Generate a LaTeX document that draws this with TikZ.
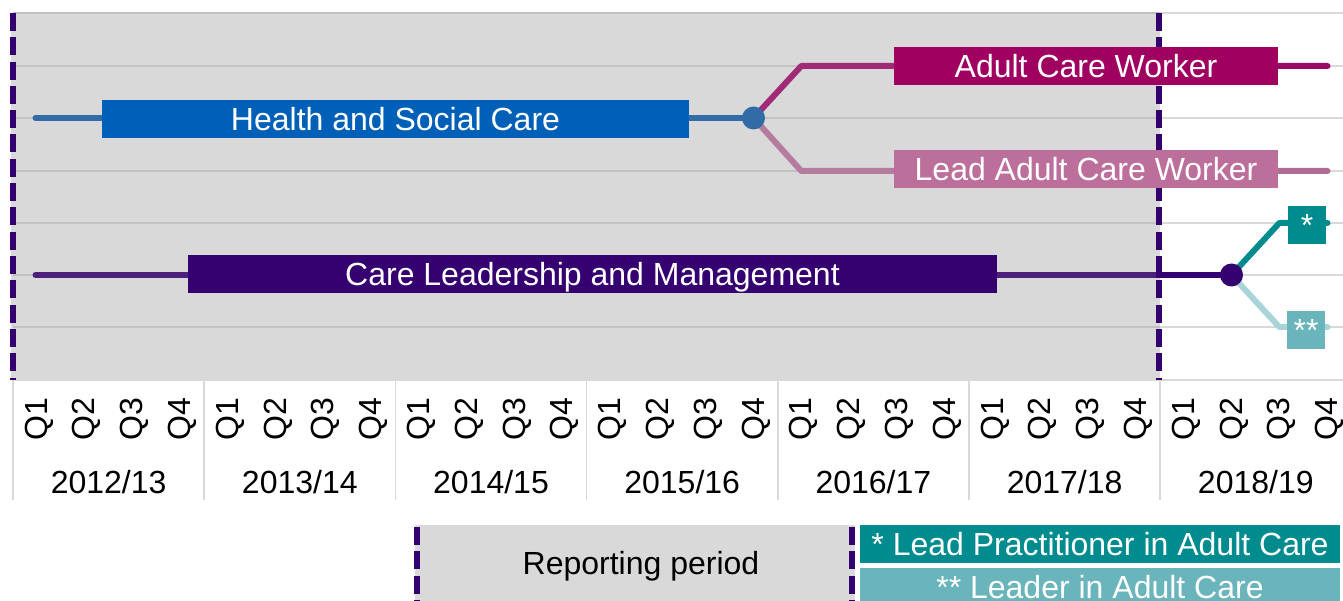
\documentclass[tikz,border=0pt]{standalone}
\usepackage{fontspec}
\setmainfont{Liberation Sans}
\definecolor{regionGrey}{HTML}{D9D9D9}
\definecolor{gridDark}{HTML}{BFBFBF}
\definecolor{gridLight}{HTML}{D9D9D9}
\definecolor{periodPurple}{HTML}{330070}
\definecolor{hscBox}{HTML}{0060B8}
\definecolor{hscLine}{HTML}{155A9E}
\definecolor{acwBox}{HTML}{A0005F}
\definecolor{acwLine}{HTML}{980C66}
\definecolor{lacwBox}{HTML}{BD6F9C}
\definecolor{lacwLine}{HTML}{B06C96}
\definecolor{clmBox}{HTML}{35006F}
\definecolor{lpBox}{HTML}{008B8F}
\definecolor{lacBox}{HTML}{6AB4BC}
\definecolor{lacLine}{HTML}{A9D5D8}
\begin{document}
\begin{tikzpicture}[x=1pt,y=-1pt,
  bigfont/.style={font=\fontsize{32}{38}\selectfont},
  lbl/.style={bigfont, text=white, inner sep=0pt, minimum height=38pt,
    text height=23pt, text depth=0pt, anchor=center},
  axislbl/.style={bigfont, text=black, inner sep=0pt, text height=23pt,
    text depth=0pt, anchor=center},
  qlbl/.style={axislbl, rotate=90},
  flow/.style={line width=6pt, line cap=round, line join=round},
  dot/.style={circle, inner sep=0pt, minimum size=23pt},
  periodline/.style={periodPurple, line width=6pt, dash pattern=on 18pt off 6.3pt},
  grid/.style={line width=2pt}
]
\useasboundingbox (0,0) rectangle (1343,601);
\clip (0,0) rectangle (1343,601);

% reporting period background and grid
\fill[regionGrey] (11,13) rectangle (1160,380);
\foreach \gy in {13,66,118,171,223,275,327}{
  \draw[grid, gridDark] (13,\gy) -- (1160,\gy);
  \draw[grid, gridLight] (1160,\gy) -- (1343,\gy);
}
\draw[grid, gridLight] (13,380) -- (1343,380);

% quarter axis
\foreach \k in {0,...,6}{
  \draw[line width=1.5pt, gridLight] ({13+191.2*\k},380) -- ({13+191.2*\k},500);
}
\foreach \i in {0,...,27}{
  \pgfmathtruncatemacro{\q}{mod(\i,4)+1}
  \node[qlbl] (q\i) at ({35.5+47.8*\i},419) {Q\q};
}
\foreach \yr [count=\k from 0] in {2012/13,2013/14,2014/15,2015/16,2016/17,2017/18,2018/19}{
  \node[axislbl] (yr\k) at ({13+191.2*(\k+0.5)},482) {\yr};
}

% reporting period bounds
\coordinate (leftTop) at (13,13);
\coordinate (leftBot) at (13,380);
\coordinate (rightTop) at (1159,13);
\coordinate (rightBot) at (1159,380);
\draw[periodline] (leftTop) -- (leftBot);
\draw[periodline] (rightTop) -- (rightBot);

% route points
\coordinate (hscStart) at (35.5,118);
\coordinate (hscSplit) at (753.5,118);
\coordinate (acwBend) at (801.3,66);
\coordinate (acwEnd) at (1327.5,66);
\coordinate (lacwBend) at (801.3,171);
\coordinate (lacwEnd) at (1327.5,171);
\coordinate (clmStart) at (35.5,275);
\coordinate (clmSplit) at (1231.5,275);
\coordinate (lpBend) at (1279.3,223);
\coordinate (lpEnd) at (1327.5,223);
\coordinate (lacBend) at (1279.3,327);
\coordinate (lacEnd) at (1327.5,327);

% routes
\draw[flow, hscLine] (hscStart) -- (hscSplit);
\draw[flow, acwLine] (hscSplit) -- (acwBend) -- (acwEnd);
\draw[flow, lacwLine] (hscSplit) -- (lacwBend) -- (lacwEnd);
\draw[flow, clmBox] (clmStart) -- (clmSplit);
\draw[flow, lpBox] (clmSplit) -- (lpBend) -- (lpEnd);
\draw[flow, lacLine] (clmSplit) -- (lacBend) -- (lacEnd);
\node[dot, fill=hscLine] (hscNode) at (hscSplit) {};
\node[dot, fill=clmBox] (clmNode) at (clmSplit) {};

% haze over the reporting period
\fill[regionGrey, opacity=0.15] (16,13) rectangle (1156,380);

% labels
\node[lbl, fill=hscBox, minimum width=587pt] (hsc) at (395.5,119) {Health and Social Care};
\node[lbl, fill=acwBox, minimum width=384pt] (acw) at (1086,66) {Adult Care Worker};
\node[lbl, fill=lacwBox, minimum width=384pt] (lacw) at (1086,169) {Lead Adult Care Worker};
\node[lbl, fill=clmBox, minimum width=809pt] (clm) at (592.5,274) {Care Leadership and Management};
\node[lbl, fill=lpBox, minimum width=38pt] (lp) at (1307,225) {*};
\node[lbl, fill=lacBox, minimum width=38pt] (lac) at (1306,330) {**};

% key
\node[fill=regionGrey, inner sep=0pt, minimum width=440pt, minimum height=82pt,
  anchor=north west] (periodKey) at (415,525) {};
\node[axislbl] (periodText) at (641,563) {Reporting period};
\coordinate (keyLeftTop) at (417,527);
\coordinate (keyLeftBot) at (417,605);
\coordinate (keyRightTop) at (852,527);
\coordinate (keyRightBot) at (852,605);
\draw[periodline] (keyLeftTop) -- (keyLeftBot);
\draw[periodline] (keyRightTop) -- (keyRightBot);
\node[lbl, fill=lpBox, minimum width=480pt] (lpKey) at (1100,544) {* Lead Practitioner in Adult Care};
\node[lbl, fill=lacBox, minimum width=480pt] (lacKey) at (1100,587) {** Leader in Adult Care};
\end{tikzpicture}
\end{document}
